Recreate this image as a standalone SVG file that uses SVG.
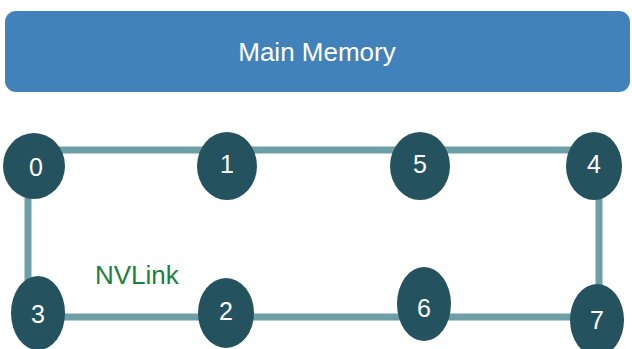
<svg xmlns="http://www.w3.org/2000/svg" width="632" height="349" viewBox="0 0 632 349">
  <style>
    .link { stroke: #6E9FA7; stroke-width: 7; fill: none; }
    .gpu { fill: #24525E; }
    .num { fill: #FFFFFF; font-family: "Liberation Sans", Arial, sans-serif; font-size: 25px; text-anchor: middle; dominant-baseline: central; }
  </style>
  <rect width="632" height="349" fill="#FFFFFF"/>

  <g id="main-memory">
    <rect x="5" y="11" width="625" height="81" rx="11" fill="#4282BA"/>
    <text x="317" y="61" fill="#FFFFFF" font-family="Liberation Sans, Arial, sans-serif" font-size="26" text-anchor="middle">Main Memory</text>
  </g>

  <g id="connectors">
    <line class="link" x1="34" y1="150" x2="594" y2="150"/>
    <line class="link" x1="28" y1="166" x2="28" y2="313"/>
    <line class="link" x1="38" y1="317" x2="597" y2="317"/>
    <line class="link" x1="599" y1="166" x2="599" y2="320"/>
  </g>

  <text id="nvlink-label" x="95" y="284" fill="#1C8040" font-family="Liberation Sans, Arial, sans-serif" font-size="26">NVLink</text>

  <g id="gpu0"><ellipse class="gpu" cx="34" cy="166" rx="31" ry="33"/><text class="num" x="36" y="167">0</text></g>
  <g id="gpu1"><ellipse class="gpu" cx="227" cy="166" rx="30" ry="34"/><text class="num" x="227" y="164">1</text></g>
  <g id="gpu5"><ellipse class="gpu" cx="420" cy="166" rx="30" ry="34"/><text class="num" x="420" y="164">5</text></g>
  <g id="gpu4"><ellipse class="gpu" cx="594" cy="166" rx="28" ry="34"/><text class="num" x="594" y="164">4</text></g>
  <g id="gpu3"><ellipse class="gpu" cx="38" cy="313" rx="27" ry="37"/><text class="num" x="38" y="314">3</text></g>
  <g id="gpu2"><ellipse class="gpu" cx="226" cy="313" rx="28" ry="35"/><text class="num" x="226" y="311">2</text></g>
  <g id="gpu6"><ellipse class="gpu" cx="424" cy="304" rx="27" ry="37"/><text class="num" x="424" y="308">6</text></g>
  <g id="gpu7"><ellipse class="gpu" cx="597" cy="320" rx="27" ry="36"/><text class="num" x="597" y="320">7</text></g>
</svg>
